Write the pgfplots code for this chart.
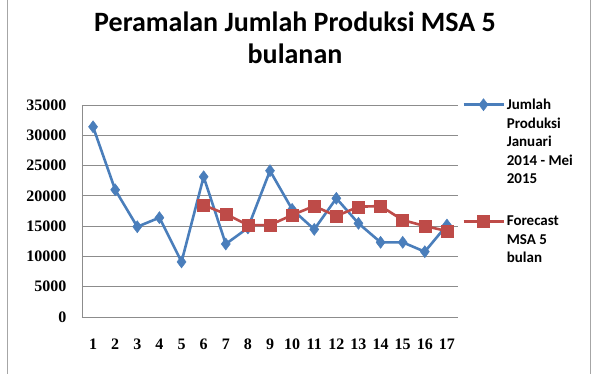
\documentclass[border=0pt]{standalone}
\usepackage{pgfplots}
\pgfplotsset{compat=1.18}
\usepackage{fontspec}
\setmainfont{Liberation Serif}
\newfontfamily\calfont{Carlito}
\definecolor{serblue}{HTML}{4A7EBB}
\definecolor{serred}{HTML}{BE4B48}
\definecolor{gridgray}{HTML}{8C8C8C}
\begin{document}
\begin{tikzpicture}[x=1pt,y=1pt]
\useasboundingbox (0,0) rectangle (595,373);
\fill[white] (0,0) rectangle (595,373);
\draw[gray!70, line width=1pt] (7,-2) -- (7,375);
\draw[gray!70, line width=1pt] (590,-2) -- (590,375);
\node[font=\calfont\bfseries\fontsize{28}{30}\selectfont, anchor=base] at (295,341) {Peramalan Jumlah Produksi MSA 5};
\node[font=\calfont\bfseries\fontsize{28}{30}\selectfont, anchor=base] at (295,309) {bulanan};
\begin{axis}[
  at={(82pt,56pt)}, anchor=south west,
  scale only axis, width=376pt, height=212pt,
  xmin=0.5, xmax=17.5, ymin=0, ymax=35000,
  xtick={1,...,17}, ytick={0,5000,...,35000},
  scaled y ticks=false,
  /pgf/number format/1000 sep={},
  /pgf/number format/assume math mode=true,
  ticklabel style={font=\bfseries\fontsize{16}{16}\selectfont},
  major tick length=0pt,
  xticklabel style={yshift=-18pt},
  yticklabel style={xshift=-12pt},
  axis x line*=bottom, axis y line*=left,
  axis line style={gridgray, line width=0.9pt},
  ymajorgrids, major grid style={gridgray, line width=0.9pt},
  clip=false,
  legend style={at={(rel axis cs:1,1)}, xshift=4pt, yshift=8pt, anchor=north west, draw=none, fill=none,
    font=\calfont\bfseries\fontsize{15}{18.5}\selectfont,
    cells={align=left, anchor=west}, row sep=27pt, inner sep=0pt},
]
\addplot[serblue, line width=2.6pt, mark=diamond*, mark size=6pt, mark options={solid, line width=0.5pt},
  legend image code/.code={\draw[mark repeat=2,mark phase=2, yshift=37.5pt] plot coordinates {(0pt,0pt) (20pt,0pt) (40pt,0pt)};}] coordinates {
(1,31400) (2,21000) (3,14900) (4,16400) (5,9100) (6,23150) (7,12050) (8,14700) (9,24150) (10,17770) (11,14470) (12,19590) (13,15460) (14,12330) (15,12330) (16,10780) (17,15180)};
\addlegendentry{Jumlah\\Produksi\\Januari\\2014 - Mei\\2015}
\addplot[serred, line width=2.6pt, mark=square*, mark size=6pt, mark options={solid, line width=0.5pt},
  legend image code/.code={\draw[mark repeat=2,mark phase=2, yshift=19pt] plot coordinates {(0pt,0pt) (20pt,0pt) (40pt,0pt)};}] coordinates {
(6,18480) (7,17000) (8,15180) (9,15180) (10,16830) (11,18320) (12,16670) (13,18200) (14,18320) (15,16000) (16,15020) (17,14190)};
\addlegendentry{Forecast\\MSA 5\\bulan}
\end{axis}
\end{tikzpicture}
\end{document}
